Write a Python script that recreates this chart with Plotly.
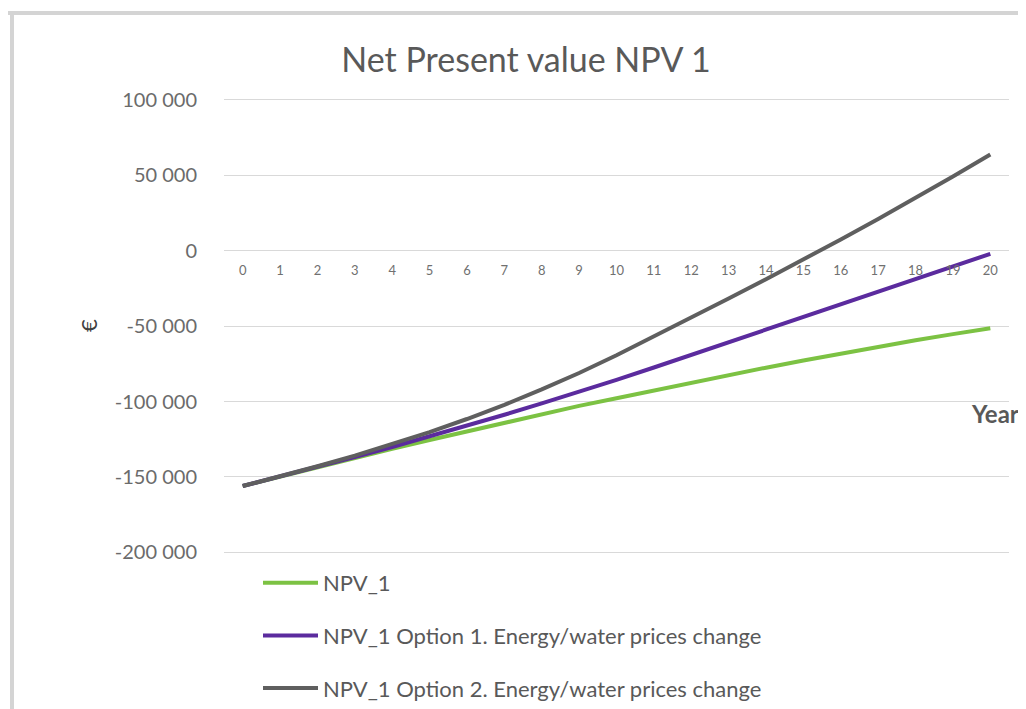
import plotly.graph_objects as go

years = list(range(0, 21))

npv_1 = [-156000, -149700, -143500, -137400, -131400, -125500, -119700, -114000,
         -108400, -102900, -97800, -92600, -87500, -82500, -77600, -72800,
         -68200, -63800, -59500, -55400, -51500]

npv_1_opt1 = [-156000, -149700, -143300, -136800, -130100, -123200, -116100, -108800,
              -101300, -93600, -85700, -77500, -69200, -60900, -52600, -44300,
              -35900, -27500, -19100, -10700, -2200]

npv_1_opt2 = [-156000, -149600, -142900, -135900, -128400, -120300, -111600, -102200,
              -92000, -81100, -69400, -57000, -44500, -31800, -19000, -6000,
              7300, 20800, 34700, 49000, 63600]

series_names = ["NPV_1",
                "NPV_1 Option 1. Energy/water prices change",
                "NPV_1 Option 2. Energy/water prices change"]

y_tick_vals = [100000, 50000, 0, -50000, -100000, -150000, -200000]
y_tick_text = ["100 000", "50 000", "0", "-50 000", "-100 000", "-150 000", "-200 000"]

colors = ["#7cc243", "#5b2b9e", "#5f5f5f"]

# the page body adds an 8px offset; lay out in figure pixels = target pixels - 8
OFF = 8
W, H = 1026 - OFF, 709 - OFF
ML, MR, MT, MB = 216, 17, 90, 155
PW = W - ML - MR
PH = H - MT - MB
Y_RANGE = [-201000, 101000]


def px_x(p):
    return (p - OFF - ML) / PW


def px_y(p):
    return (H - MB - (p - OFF)) / PH


fig = go.Figure()
for i, (name, vals) in enumerate(zip(series_names, [npv_1, npv_1_opt1, npv_1_opt2])):
    fig.add_trace(go.Scatter(
        x=years, y=vals, mode="lines", name=name,
        line=dict(color=colors[i], width=4),
        legendgroup=f"g{i}",
    ))

fig.update_layout(
    width=W, height=H,
    margin=dict(l=ML, r=MR, t=MT, b=MB, autoexpand=False),
    paper_bgcolor="white", plot_bgcolor="white",
    font=dict(family="Lato, Open Sans, sans-serif", color="#595959"),
    title=dict(text="Net Present value NPV 1", x=(526 - OFF) / W, xref="container",
               xanchor="center", y=1 - (60 - OFF) / H, yref="container", yanchor="middle",
               font=dict(size=34, color="#595959")),
    showlegend=True,
    legend=dict(x=px_x(258), y=px_y(562), xref="paper", yref="paper",
                xanchor="left", yanchor="top",
                traceorder="grouped", tracegroupgap=21, itemwidth=55,
                font=dict(size=22, color="#595959"), bgcolor="rgba(0,0,0,0)"),
    xaxis=dict(range=[-0.5, 20.5], tickvals=years, ticktext=[str(v) for v in years],
               showgrid=False, zeroline=False, showline=False, automargin=False,
               anchor="free", position=(0 - Y_RANGE[0]) / (Y_RANGE[1] - Y_RANGE[0]),
               ticks="outside", ticklen=8, tickcolor="rgba(0,0,0,0)", tickangle=0,
               tickfont=dict(size=13, color="#707070")),
    yaxis=dict(range=Y_RANGE, tickvals=y_tick_vals, ticktext=y_tick_text,
               showgrid=True, gridcolor="#d9d9d9", gridwidth=1, zeroline=False,
               showline=False, ticks="outside", ticklen=22, tickcolor="rgba(0,0,0,0)",
               automargin=False, tickfont=dict(size=20, color="#6b6b6b")),
    annotations=[
        dict(text="€", x=px_x(88), y=px_y(326), xref="paper", yref="paper",
             xanchor="center", yanchor="middle",
             textangle=-90, showarrow=False, font=dict(size=22, color="#404040")),
        dict(text="<b>Year</b>", x=px_x(995), y=px_y(413), xref="paper", yref="paper",
             xanchor="center", yanchor="middle",
             showarrow=False, font=dict(size=24, color="#595959")),
    ],
    shapes=[
        dict(type="line", xref="paper", yref="paper", x0=px_x(4), x1=px_x(1030),
             y0=px_y(13), y1=px_y(13), line=dict(color="#d4d4d4", width=4)),
        dict(type="line", xref="paper", yref="paper", x0=px_x(12), x1=px_x(12),
             y0=px_y(11), y1=px_y(720), line=dict(color="#d4d4d4", width=4)),
    ],
)

fig.write_html("out.html")
